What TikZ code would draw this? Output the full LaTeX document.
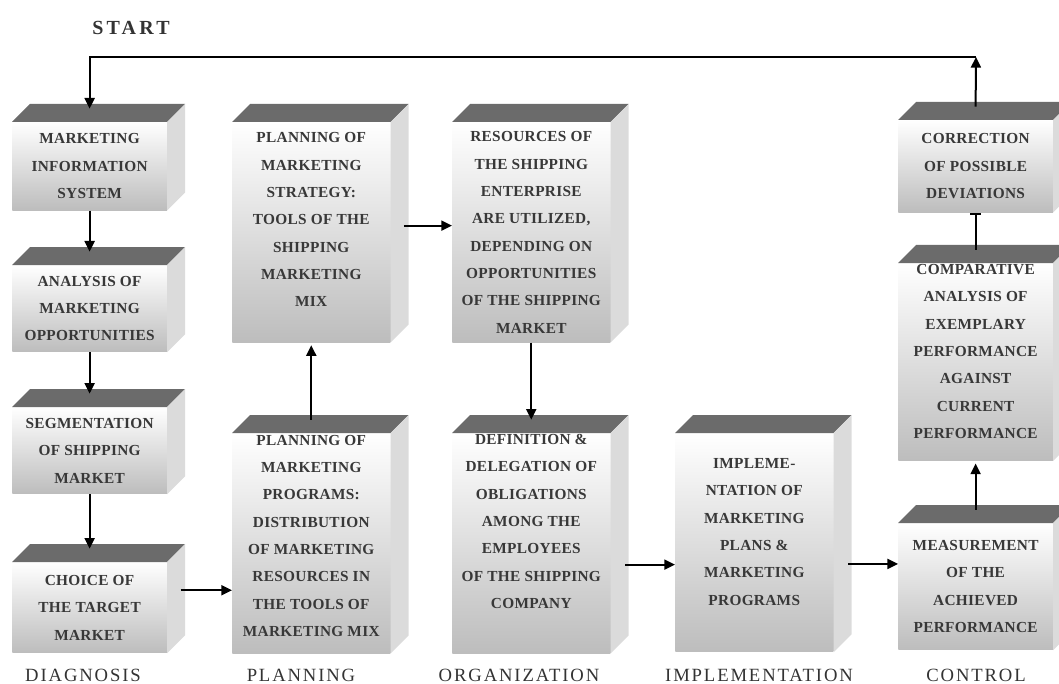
\documentclass[tikz,border=0pt]{standalone}
\usepackage{fontspec}
\setmainfont{Liberation Serif}
\newfontfamily\boxfont[LetterSpace=2]{Liberation Serif}
\newfontfamily\stagefont[LetterSpace=10]{Liberation Serif}
\newfontfamily\startfont[LetterSpace=16]{Liberation Serif}
\usetikzlibrary{arrows.meta}

\begin{document}
\begin{tikzpicture}[x=0.75pt, y=-0.75pt, box/.style={rectangle, anchor=north west, inner sep=0pt, minimum width=116pt, top color=white, bottom color=black!26, align=center, text=black!78, font=\boxfont\bfseries\fontsize{11.5}{20.5}\selectfont}, wide/.style={minimum width=118.5pt}, lift/.style={text height=#1}, topface/.style={fill=black!58}, sideface/.style={fill=black!14}, n/.style={-{Triangle[length=8pt, width=7.5pt]}, line width=1.5pt}, stage/.style={font=\stagefont\fontsize{14}{16}\selectfont, text=black!80}]
            \useasboundingbox (0,0) rectangle (1059,684);
            % boxes (front faces)
            \node[box, minimum height=66pt] (mis) at (12,122) {MARKETING\\INFORMATION\\SYSTEM};
            \node[box, minimum height=65pt] (analysis) at (12,265) {ANALYSIS OF\\MARKETING\\OPPORTUNITIES};
            \node[box, minimum height=65pt] (segment) at (12,407) {SEGMENTATION\\OF SHIPPING\\MARKET};
            \node[box, minimum height=68pt] (choice) at (12,562) {CHOICE OF\\THE TARGET\\MARKET};
            \node[box, wide, lift=112pt, minimum height=165pt] (strategy) at (232,122) {PLANNING OF\\MARKETING\\STRATEGY:\\TOOLS OF THE\\SHIPPING\\MARKETING\\MIX};
            \node[box, wide, lift=140pt, minimum height=165pt] (programs) at (232,433) {PLANNING OF\\MARKETING\\PROGRAMS:\\DISTRIBUTION\\OF MARKETING\\RESOURCES IN\\THE TOOLS OF\\MARKETING MIX};
            \node[box, wide, minimum height=165pt] (resources) at (452,122) {RESOURCES OF\\THE SHIPPING\\ENTERPRISE\\ARE UTILIZED,\\DEPENDING ON\\OPPORTUNITIES\\OF THE SHIPPING\\MARKET};
            \node[box, wide, lift=98pt, minimum height=165pt] (definition) at (452,433) {DEFINITION \&\\DELEGATION OF\\OBLIGATIONS\\AMONG THE\\EMPLOYEES\\OF THE SHIPPING\\COMPANY};
            \node[box, wide, lift=94pt, minimum height=164pt] (implement) at (675,433) {IMPLEME-\\NTATION OF\\MARKETING\\PLANS \&\\MARKETING\\PROGRAMS};
            \node[box, minimum height=95pt] (measure) at (898,523) {MEASUREMENT\\OF THE\\ACHIEVED\\PERFORMANCE};
            \node[box, lift=115pt, minimum height=148pt] (compare) at (898,263) {COMPARATIVE\\ANALYSIS OF\\EXEMPLARY\\PERFORMANCE\\AGAINST\\CURRENT\\PERFORMANCE};
            \node[box, minimum height=69pt] (correct) at (898,120) {CORRECTION\\OF POSSIBLE\\DEVIATIONS};
            % top and side faces
            \foreach \b in {mis,analysis,segment,choice,strategy,programs,resources,definition,implement,measure,compare,correct}{
                \fill[topface] (\b.north west) -- ++(18,-18) -- ([shift={(18,-18)}]\b.north east) -- (\b.north east) -- cycle;
                \fill[sideface] (\b.north east) -- ++(18,-18) -- ([shift={(18,-18)}]\b.south east) -- (\b.south east) -- cycle;
            }
            % stage labels
            \node[font=\startfont\bfseries\fontsize{15}{17}\selectfont, text=black!80] (start) at (131,28) {START};
            \node[stage] (diagnosis) at (83,675) {DIAGNOSIS};
            \node[stage] (planning) at (301,675) {PLANNING};
            \node[stage] (organization) at (519,675) {ORGANIZATION};
            \node[stage] (implementation) at (759,675) {IMPLEMENTATION};
            \node[stage] (control) at (976,675) {CONTROL};
            % edges
            \coordinate (loop) at (976,57);
            \draw [n] (mis) -- ([yshift=10pt]analysis.north);
            \draw [n] (analysis) -- ([yshift=10pt]segment.north);
            \draw [n] (segment) -- ([yshift=10pt]choice.north);
            \draw [n] ([xshift=10pt, yshift=13pt]choice.east) -- ([yshift=13pt]choice.east -| programs.west);
            \draw [n] ([yshift=10pt]programs.north) -- ([yshift=-2pt]strategy.south);
            \draw [n] ([xshift=10pt, yshift=5pt]strategy.east) -- ([yshift=5pt]strategy.east -| resources.west);
            \draw [n] (resources) -- ([yshift=10pt]definition.north);
            \draw [n] ([xshift=11pt, yshift=-16pt]definition.east) -- ([yshift=-16pt]definition.east -| implement.west);
            \draw [n] ([xshift=11pt, yshift=-16pt]implement.east) -- ([yshift=-16pt]implement.east -| measure.west);
            \draw [n] ([yshift=10pt]measure.north) -- ([yshift=-2pt]compare.south);
            \draw [-{Bar[width=8pt]}, line width=1.5pt] ([yshift=10pt]compare.north) -- (correct.south);
            \draw [n] ([yshift=10pt]correct.north) -- (loop);
            \draw [n] (loop) -| ([yshift=10pt]mis.north);
        \end{tikzpicture}
\end{document}
